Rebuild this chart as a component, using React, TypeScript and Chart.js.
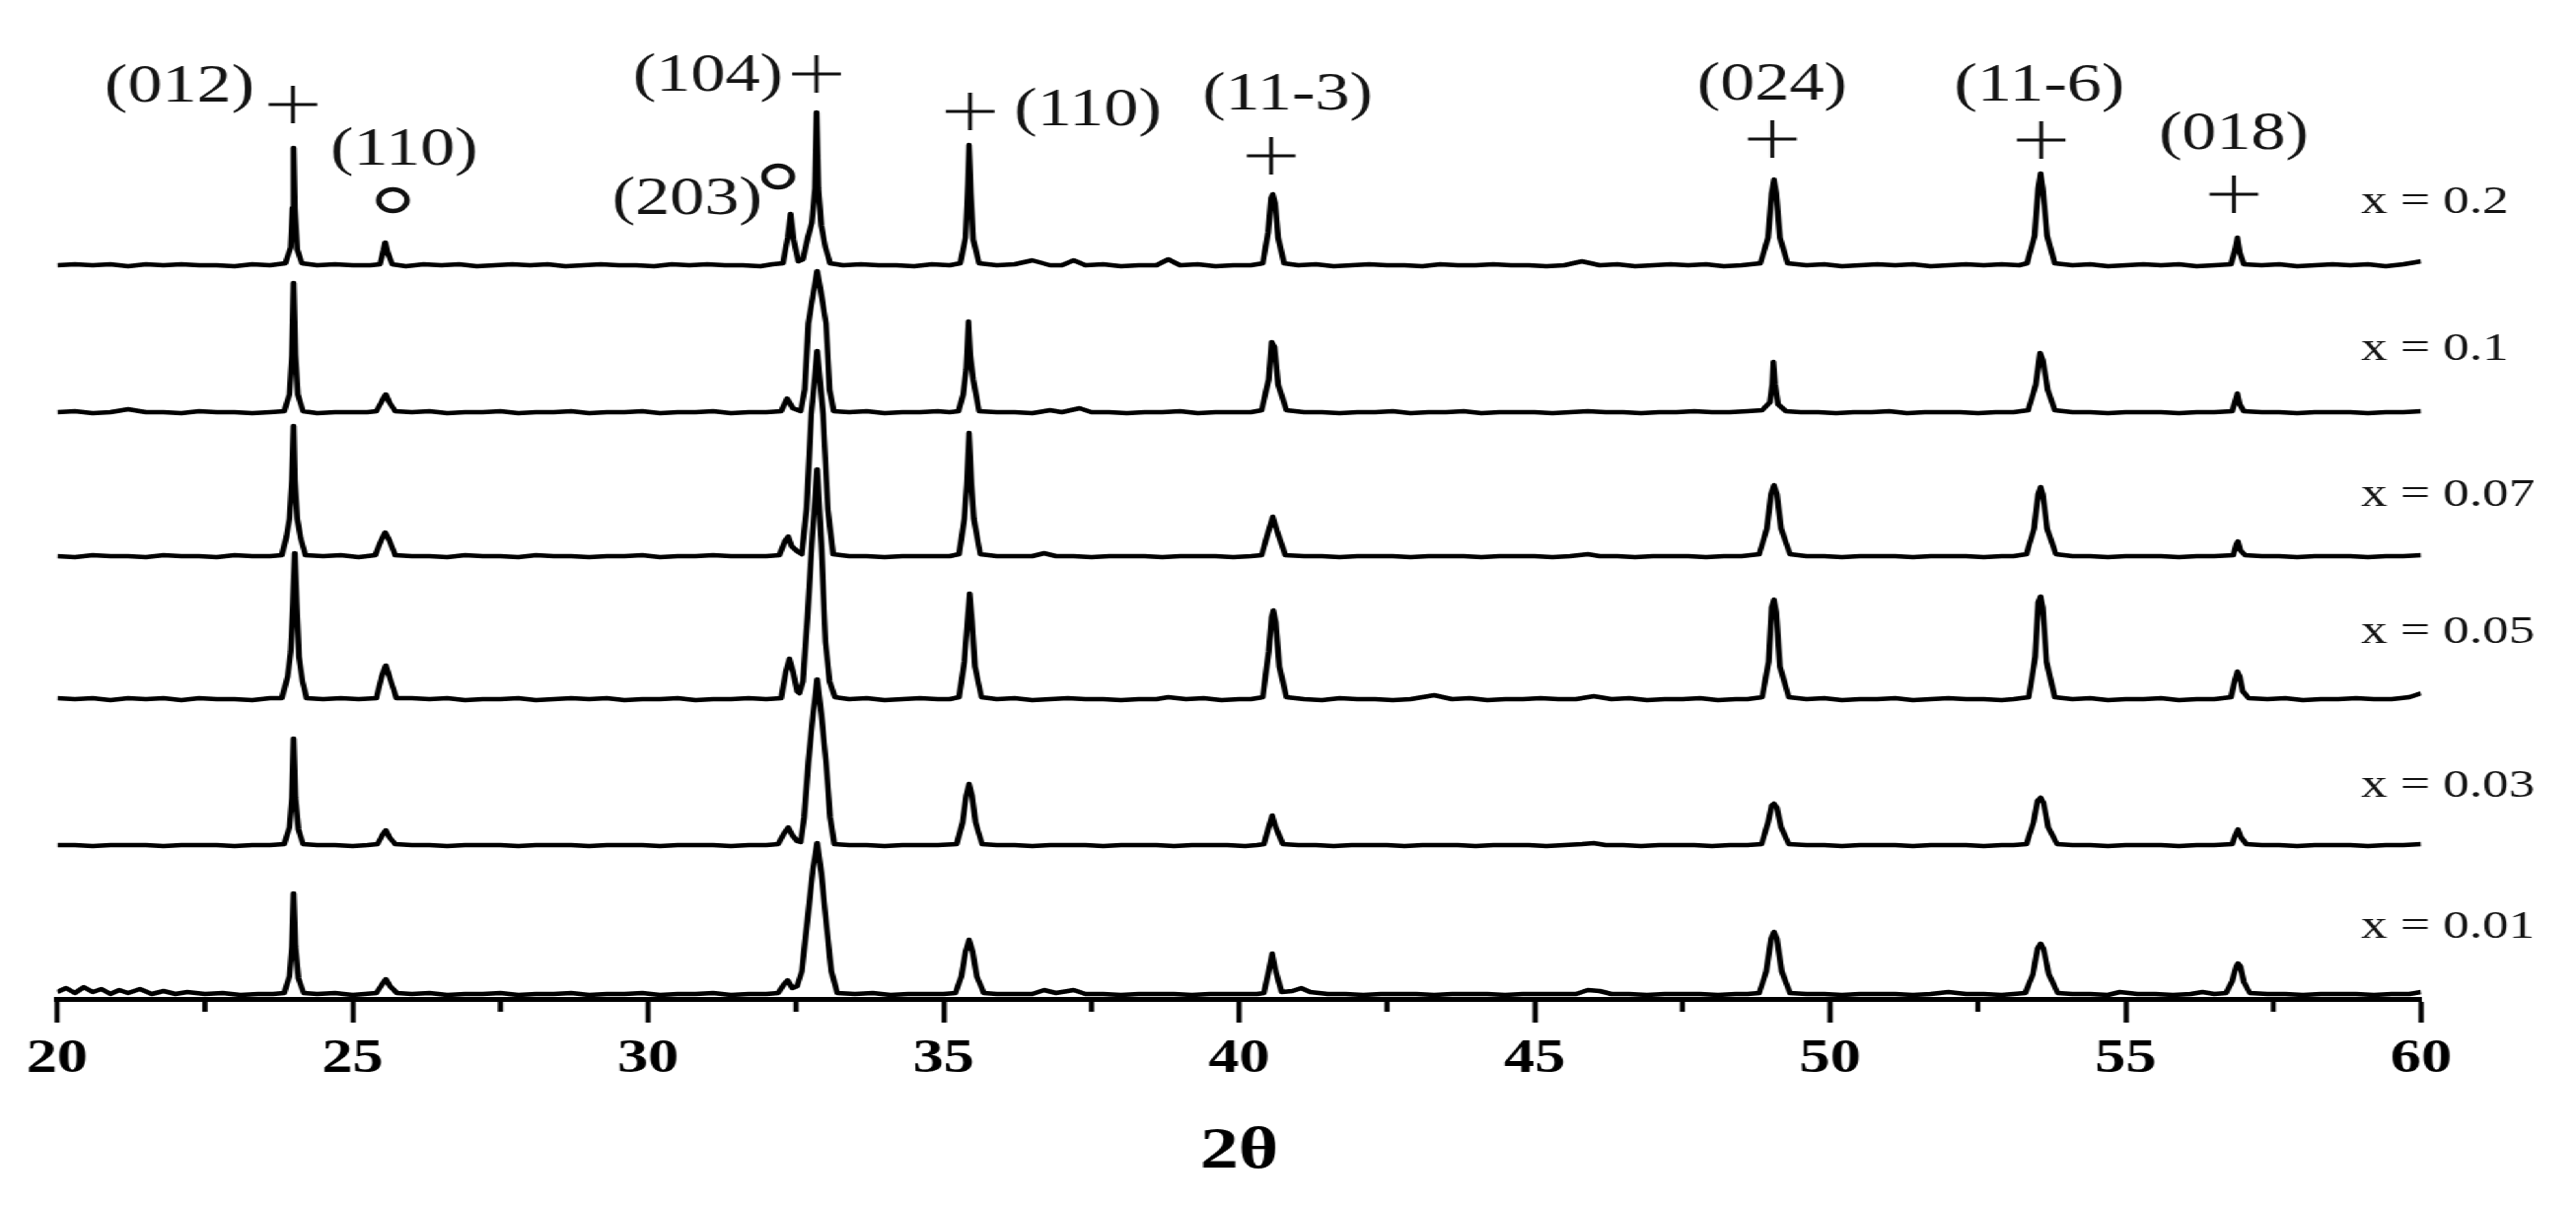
import React, { useEffect, useRef } from "react";
import { Chart, registerables } from "chart.js";

Chart.register(...registerables);

// ---------- data ----------
const SERIES_LABELS = ["x = 0.2", "x = 0.1", "x = 0.07", "x = 0.05", "x = 0.03", "x = 0.01"];
// vertical stacking offsets (a.u.) of each pattern
const OFFSETS = [742, 593, 447, 302, 154, 3];

// [2θ, intensity above own baseline]
const TRACE_X020: number[][] = [
  [20.0,2],[20.3,3],[20.6,2],[20.9,3],[21.2,1],[21.5,3],[21.8,2],[22.1,3],[22.4,2],[22.7,2],[23.0,1],[23.3,3],[23.6,2],
  [23.86,4],[23.95,20],[23.98,60],[24.0,121],[24.02,60],[24.06,18],[24.14,4],
  [24.4,2],[24.7,3],[25.0,2],[25.3,2],
  [25.46,3],[25.52,17],[25.55,25],[25.59,15],[25.67,3],
  [25.9,1],[26.2,3],[26.5,2],[26.8,3],[27.1,1],[27.4,2],[27.7,3],[28.0,2],[28.3,3],[28.6,1],[28.9,2],[29.2,3],[29.5,2],[29.8,2],[30.1,1],[30.4,3],[30.7,2],[31.0,3],[31.3,2],[31.6,2],[31.9,1],[32.1,3],
  [32.28,4],[32.36,30],[32.41,54],[32.46,28],[32.54,6],
  [32.62,8],[32.7,30],[32.77,45],[32.82,80],[32.85,157],[32.88,80],[32.93,42],[33.0,20],[33.08,4],
  [33.3,2],[33.6,3],[33.9,2],[34.2,2],[34.5,1],[34.8,3],[35.1,2],
  [35.28,4],[35.37,30],[35.41,85],[35.43,124],[35.46,75],[35.5,28],[35.6,4],
  [35.9,2],[36.2,3],[36.5,7],[36.8,2],[37.0,2],[37.2,7],[37.4,2],[37.7,3],[38.0,1],[38.3,2],[38.6,2],[38.8,8],[39.0,2],[39.3,3],[39.6,1],[39.9,2],[40.2,2],
  [40.4,4],[40.49,35],[40.54,70],[40.57,74],[40.61,65],[40.66,30],[40.76,4],
  [41.0,2],[41.3,3],[41.6,1],[41.9,2],[42.2,3],[42.5,2],[42.8,2],[43.1,1],[43.4,3],[43.7,2],[44.0,2],[44.3,3],[44.6,2],[44.9,2],[45.2,1],[45.5,2],[45.8,6],[46.1,2],[46.4,3],[46.7,1],[47.0,2],[47.3,3],[47.6,2],[47.9,3],[48.2,1],[48.5,2],
  [48.82,4],[48.95,30],[49.01,75],[49.05,89],[49.09,75],[49.15,30],[49.28,4],
  [49.6,2],[49.9,3],[50.2,1],[50.5,2],[50.8,3],[51.1,2],[51.4,3],[51.7,1],[52.0,2],[52.3,3],[52.6,2],[52.9,3],[53.2,2],
  [53.33,4],[53.46,32],[53.52,80],[53.56,95],[53.6,80],[53.67,32],[53.8,4],
  [54.1,2],[54.4,3],[54.7,1],[55.0,2],[55.3,3],[55.6,2],[55.9,3],[56.2,1],[56.5,2],
  [56.78,3],[56.85,18],[56.89,30],[56.93,15],[57.0,3],
  [57.3,2],[57.6,3],[57.9,1],[58.2,2],[58.5,3],[58.8,2],[59.1,3],[59.4,1],[59.7,3],[60.0,6],
];

const TRACE_X010: number[][] = [
  [20.0,2],[20.3,3],[20.6,1],[20.9,2],[21.2,5],[21.5,2],[21.8,2],[22.1,1],[22.4,3],[22.7,2],[23.0,2],[23.3,1],[23.6,2],
  [23.84,3],[23.93,20],[23.97,60],[24.0,133],[24.03,60],[24.07,20],[24.16,3],
  [24.4,1],[24.7,2],[25.0,2],[25.25,2],
  [25.4,3],[25.5,14],[25.56,20],[25.62,12],[25.72,3],
  [26.0,2],[26.3,3],[26.6,1],[26.9,2],[27.2,2],[27.5,3],[27.8,1],[28.1,2],[28.4,2],[28.7,3],[29.0,1],[29.3,2],[29.6,2],[29.9,3],[30.2,1],[30.5,2],[30.8,2],[31.1,3],[31.4,1],[31.7,2],[32.0,2],
  [32.25,3],[32.35,16],[32.45,6],
  [32.58,3],[32.65,25],[32.71,92],[32.8,125],[32.86,145],[32.92,125],[33.01,92],[33.07,25],[33.14,3],
  [33.4,2],[33.7,3],[34.0,1],[34.3,2],[34.6,2],[34.9,3],[35.1,2],
  [35.25,3],[35.33,20],[35.38,45],[35.42,94],[35.45,60],[35.5,35],[35.6,3],
  [35.9,2],[36.2,2],[36.5,1],[36.8,4],[37.0,2],[37.3,6],[37.5,2],[37.8,2],[38.1,1],[38.4,2],[38.7,2],[39.0,3],[39.3,1],[39.6,2],[39.9,2],[40.2,2],
  [40.38,4],[40.5,35],[40.55,73],[40.6,68],[40.66,30],[40.8,4],
  [41.1,2],[41.4,2],[41.7,1],[42.0,2],[42.3,2],[42.6,3],[42.9,1],[43.2,2],[43.5,2],[43.8,3],[44.1,1],[44.4,2],[44.7,2],[45.0,2],[45.3,1],[45.6,2],[45.9,3],[46.2,2],[46.5,2],[46.8,1],[47.1,2],[47.4,2],[47.7,3],[48.0,2],[48.3,2],[48.6,3],
  [48.85,4],[48.98,12],[49.02,30],[49.04,53],[49.07,30],[49.12,10],[49.25,3],
  [49.5,2],[49.8,2],[50.1,1],[50.4,2],[50.7,2],[51.0,3],[51.3,1],[51.6,2],[51.9,2],[52.2,2],[52.5,1],[52.8,2],[53.1,2],
  [53.35,4],[53.48,30],[53.55,62],[53.6,55],[53.68,25],[53.8,4],
  [54.1,2],[54.4,2],[54.7,1],[55.0,2],[55.3,2],[55.6,2],[55.9,1],[56.2,2],[56.5,2],
  [56.8,3],[56.86,15],[56.89,21],[56.93,10],[57.0,3],
  [57.3,2],[57.6,2],[57.9,1],[58.2,2],[58.5,2],[58.8,2],[59.1,1],[59.4,2],[59.7,2],[60.0,3],
];

const TRACE_X007: number[][] = [
  [20.0,2],[20.3,1],[20.6,3],[20.9,2],[21.2,2],[21.5,1],[21.8,3],[22.1,2],[22.4,2],[22.7,1],[23.0,3],[23.3,2],[23.6,2],
  [23.8,3],[23.88,22],[23.93,40],[23.97,80],[24.0,134],[24.02,80],[24.06,40],[24.12,20],[24.2,3],
  [24.5,2],[24.8,3],[25.1,1],
  [25.38,3],[25.48,18],[25.55,26],[25.62,18],[25.72,3],
  [26.0,2],[26.3,2],[26.6,1],[26.9,3],[27.2,2],[27.5,2],[27.8,1],[28.1,3],[28.4,2],[28.7,2],[29.0,1],[29.3,2],[29.6,2],[29.9,3],[30.2,1],[30.5,2],[30.8,2],[31.1,3],[31.4,2],[31.7,2],[32.0,2],
  [32.22,3],[32.32,18],[32.37,22],[32.43,12],[32.52,7],
  [32.6,4],[32.68,50],[32.76,146],[32.86,210],[32.96,146],[33.04,50],[33.13,4],
  [33.4,2],[33.7,2],[34.0,1],[34.3,2],[34.6,2],[34.9,2],[35.1,2],
  [35.26,4],[35.35,40],[35.39,75],[35.43,127],[35.47,75],[35.51,40],[35.62,4],
  [35.9,2],[36.2,2],[36.5,2],[36.7,5],[36.9,2],[37.2,2],[37.5,1],[37.8,2],[38.1,2],[38.4,2],[38.7,1],[39.0,2],[39.3,2],[39.6,2],[39.9,1],[40.2,2],
  [40.38,3],[40.5,28],[40.57,42],[40.64,28],[40.78,3],
  [41.1,2],[41.4,2],[41.7,1],[42.0,2],[42.3,2],[42.6,2],[42.9,1],[43.2,2],[43.5,2],[43.8,2],[44.1,1],[44.4,2],[44.7,2],[45.0,2],[45.3,1],[45.6,2],[45.9,4],[46.1,2],[46.4,2],[46.7,1],[47.0,2],[47.3,2],[47.6,2],[47.9,1],[48.2,2],[48.5,2],
  [48.8,4],[48.93,30],[49.0,65],[49.05,74],[49.1,65],[49.17,30],[49.32,4],
  [49.6,2],[49.9,2],[50.2,1],[50.5,2],[50.8,2],[51.1,2],[51.4,1],[51.7,2],[52.0,2],[52.3,2],[52.6,1],[52.9,2],[53.1,2],
  [53.32,4],[53.45,30],[53.52,65],[53.56,72],[53.6,65],[53.67,30],[53.82,4],
  [54.1,2],[54.4,2],[54.7,1],[55.0,2],[55.3,2],[55.6,2],[55.9,1],[56.2,2],[56.5,2],
  [56.82,3],[56.87,14],[56.9,17],[56.94,8],[57.02,3],
  [57.3,2],[57.6,2],[57.9,1],[58.2,2],[58.5,2],[58.8,2],[59.1,1],[59.4,2],[59.7,2],[60.0,3],
];

const TRACE_X005: number[][] = [
  [20.0,3],[20.3,2],[20.6,3],[20.9,1],[21.2,3],[21.5,2],[21.8,3],[22.1,1],[22.4,3],[22.7,2],[23.0,2],[23.3,1],[23.6,3],
  [23.8,3],[23.9,25],[23.95,50],[23.99,100],[24.02,150],[24.05,100],[24.09,45],[24.15,20],[24.22,3],
  [24.5,2],[24.8,3],[25.1,2],
  [25.4,3],[25.49,25],[25.56,36],[25.62,25],[25.74,3],
  [26.0,3],[26.3,2],[26.6,3],[26.9,1],[27.2,2],[27.5,2],[27.8,3],[28.1,1],[28.4,2],[28.7,3],[29.0,2],[29.3,3],[29.6,1],[29.9,2],[30.2,2],[30.5,3],[30.8,1],[31.1,2],[31.4,2],[31.7,3],[32.0,2],
  [32.25,3],[32.33,30],[32.39,43],[32.45,30],[32.52,10],[32.56,8],
  [32.62,20],[32.7,90],[32.78,170],[32.86,235],[32.93,160],[33.0,60],[33.07,20],[33.16,4],
  [33.4,2],[33.7,3],[34.0,1],[34.3,2],[34.6,3],[34.9,2],[35.1,2],
  [35.26,4],[35.35,40],[35.4,80],[35.44,109],[35.48,80],[35.53,35],[35.64,4],
  [35.9,2],[36.2,3],[36.5,1],[36.8,2],[37.1,3],[37.4,2],[37.7,2],[38.0,1],[38.3,2],[38.6,2],[38.8,4],[39.1,2],[39.4,3],[39.7,1],[40.0,2],[40.2,2],
  [40.4,4],[40.5,50],[40.55,85],[40.58,92],[40.62,80],[40.68,35],[40.8,4],
  [41.1,2],[41.4,1],[41.7,3],[42.0,2],[42.3,2],[42.6,1],[42.9,2],[43.3,6],[43.6,2],[43.9,3],[44.2,1],[44.5,2],[44.8,2],[45.1,3],[45.4,2],[45.7,2],[46.0,5],[46.3,2],[46.6,3],[46.9,1],[47.2,2],[47.5,2],[47.8,3],[48.1,1],[48.4,2],[48.6,2],
  [48.85,4],[48.96,40],[49.01,95],[49.05,103],[49.09,90],[49.15,35],[49.3,4],
  [49.6,2],[49.9,3],[50.2,1],[50.5,2],[50.8,2],[51.1,3],[51.4,1],[51.7,2],[52.0,3],[52.3,2],[52.6,2],[52.9,1],[53.1,2],
  [53.36,4],[53.47,45],[53.52,100],[53.56,106],[53.6,95],[53.66,40],[53.8,4],
  [54.1,2],[54.4,3],[54.7,1],[55.0,2],[55.3,2],[55.6,3],[55.9,1],[56.2,2],[56.5,2],
  [56.78,4],[56.85,22],[56.89,30],[56.93,25],[56.98,10],[57.08,3],
  [57.4,2],[57.7,3],[58.0,1],[58.3,2],[58.6,2],[58.9,3],[59.2,2],[59.5,2],[59.8,4],[60.0,8],
];

const TRACE_X003: number[][] = [
  [20.0,2],[20.3,2],[20.6,1],[20.9,2],[21.2,2],[21.5,2],[21.8,1],[22.1,2],[22.4,2],[22.7,2],[23.0,1],[23.3,2],[23.6,2],
  [23.84,3],[23.93,20],[23.97,50],[24.0,110],[24.03,50],[24.08,18],[24.16,3],
  [24.4,2],[24.7,2],[25.0,1],[25.25,2],
  [25.42,3],[25.5,12],[25.56,17],[25.62,10],[25.72,3],
  [26.0,2],[26.3,2],[26.6,1],[26.9,2],[27.2,2],[27.5,2],[27.8,1],[28.1,2],[28.4,2],[28.7,2],[29.0,1],[29.3,2],[29.6,2],[29.9,2],[30.2,1],[30.5,2],[30.8,2],[31.1,2],[31.4,1],[31.7,2],[32.0,2],
  [32.2,3],[32.3,14],[32.37,20],[32.44,12],[32.52,6],
  [32.58,5],[32.64,30],[32.71,86],[32.79,135],[32.86,170],[32.93,135],[33.01,86],[33.08,30],[33.15,3],
  [33.4,2],[33.7,2],[34.0,1],[34.3,2],[34.6,2],[34.9,2],
  [35.22,3],[35.32,25],[35.38,52],[35.43,64],[35.48,52],[35.54,25],[35.65,3],
  [35.9,2],[36.2,2],[36.5,1],[36.8,2],[37.1,2],[37.4,2],[37.7,1],[38.0,2],[38.3,2],[38.6,2],[38.9,1],[39.2,2],[39.5,2],[39.8,2],[40.1,1],[40.3,2],
  [40.42,3],[40.5,20],[40.56,32],[40.62,20],[40.74,3],
  [41.0,2],[41.3,2],[41.6,1],[41.9,2],[42.2,2],[42.5,2],[42.8,1],[43.1,2],[43.4,2],[43.7,2],[44.0,1],[44.3,2],[44.6,2],[44.9,2],[45.2,1],[45.5,2],[45.8,3],[46.0,4],[46.2,2],[46.5,2],[46.8,1],[47.1,2],[47.4,2],[47.7,2],[48.0,1],[48.3,2],[48.6,2],
  [48.84,3],[48.95,25],[49.01,42],[49.05,44],[49.1,40],[49.17,20],[49.3,3],
  [49.6,2],[49.9,2],[50.2,1],[50.5,2],[50.8,2],[51.1,2],[51.4,1],[51.7,2],[52.0,2],[52.3,2],[52.6,1],[52.9,2],[53.1,2],
  [53.32,3],[53.44,25],[53.51,47],[53.56,50],[53.61,45],[53.69,20],[53.84,3],
  [54.1,2],[54.4,2],[54.7,1],[55.0,2],[55.3,2],[55.6,2],[55.9,1],[56.2,2],[56.5,2],
  [56.8,3],[56.86,13],[56.9,18],[56.95,10],[57.04,3],
  [57.3,2],[57.6,2],[57.9,1],[58.2,2],[58.5,2],[58.8,2],[59.1,1],[59.4,2],[59.7,2],[60.0,3],
];

const TRACE_X001: number[][] = [
  [20.0,4],[20.15,8],[20.3,3],[20.45,9],[20.6,4],[20.75,7],[20.9,2],[21.05,6],[21.2,3],[21.4,7],[21.6,2],[21.8,5],[22.0,2],[22.2,4],[22.5,2],[22.8,3],[23.1,1],[23.4,2],[23.65,2],
  [23.84,3],[23.93,20],[23.97,50],[24.0,104],[24.03,50],[24.08,18],[24.17,3],
  [24.4,2],[24.7,3],[25.0,1],[25.2,2],
  [25.4,3],[25.5,12],[25.56,17],[25.63,10],[25.75,3],
  [26.0,2],[26.3,3],[26.6,1],[26.9,2],[27.2,2],[27.5,3],[27.8,1],[28.1,2],[28.4,2],[28.7,3],[29.0,1],[29.3,2],[29.6,2],[29.9,3],[30.2,1],[30.5,2],[30.8,2],[31.1,3],[31.4,1],[31.7,2],[32.0,2],
  [32.2,3],[32.3,12],[32.36,16],[32.44,8],[32.52,10],
  [32.6,25],[32.7,80],[32.79,130],[32.86,155],[32.93,125],[33.02,70],[33.1,25],[33.2,3],
  [33.5,2],[33.8,3],[34.1,1],[34.4,2],[34.7,2],[35.0,2],
  [35.2,3],[35.3,20],[35.37,45],[35.43,57],[35.49,45],[35.56,20],[35.68,3],
  [35.9,2],[36.2,2],[36.5,2],[36.7,6],[36.9,3],[37.2,6],[37.4,2],[37.7,2],[38.0,1],[38.3,2],[38.6,2],[38.9,2],[39.2,1],[39.5,2],[39.8,2],[40.1,2],[40.3,2],
  [40.42,3],[40.5,25],[40.56,43],[40.62,25],[40.72,4],
  [40.9,5],[41.05,8],[41.2,4],[41.5,2],[41.8,2],[42.1,1],[42.4,2],[42.7,2],[43.0,2],[43.3,1],[43.6,2],[43.9,2],[44.2,2],[44.5,1],[44.8,2],[45.1,2],[45.4,2],[45.7,2],[45.9,6],[46.1,5],[46.3,2],[46.6,2],[46.9,1],[47.2,2],[47.5,2],[47.8,2],[48.1,1],[48.4,2],[48.6,2],
  [48.8,3],[48.92,25],[49.0,58],[49.05,65],[49.1,58],[49.18,25],[49.32,3],
  [49.6,2],[49.9,2],[50.2,1],[50.5,2],[50.8,2],[51.1,2],[51.4,1],[51.7,2],[52.0,4],[52.3,2],[52.6,2],[52.9,1],[53.1,2],
  [53.3,3],[53.43,22],[53.51,48],[53.56,53],[53.61,48],[53.7,22],[53.85,3],
  [54.1,2],[54.4,2],[54.7,1],[54.9,4],[55.2,2],[55.5,2],[55.8,1],[56.1,2],[56.3,4],[56.5,2],
  [56.7,3],[56.8,15],[56.87,30],[56.9,33],[56.94,30],[57.0,14],[57.1,3],
  [57.4,2],[57.7,2],[58.0,1],[58.3,2],[58.6,2],[58.9,2],[59.2,1],[59.5,2],[59.8,2],[60.0,4],
];

const TRACES = [TRACE_X020, TRACE_X010, TRACE_X007, TRACE_X005, TRACE_X003, TRACE_X001];

// reflection labels
const HKL_TEXT = ["(012)", "(110)", "(104)", "(203)", "(110)", "(11-3)", "(024)", "(11-6)", "(018)"];
const HKL_X = [22.07, 25.87, 31.01, 30.66, 37.44, 40.82, 49.02, 53.54, 56.83];
const HKL_Y = [924, 860, 935, 810, 900, 916, 926, 925, 876];
// "+" phase markers
const PLUS_X = [23.99, 32.85, 35.45, 40.54, 49.02, 53.57, 56.83];
const PLUS_Y = [907, 938, 900, 855, 872, 871, 816];
// "o" phase markers
const O_X = [25.68, 32.2];
const O_Y = [810, 834];
// series label placement
const SERIES_LABEL_X = 58.98;
const SERIES_LABEL_Y = [808, 659, 511, 372, 216, 73];

const X_MIN = 20;
const X_MAX = 60;
const X_STEP = 5;
const MINOR_TICKS = [22.5, 27.5, 32.5, 37.5, 42.5, 47.5, 52.5, 57.5];
const X_TITLE = "2θ";

// ---------- layout ----------
const STRETCH = 1.3;
const CW = 2009;
const CH = 1224;

const annotationPlugin = {
  id: "xrdAnnotations",
  afterDatasetsDraw(chart: any) {
    const { ctx, chartArea } = chart;
    const xs = chart.scales.x;
    const ys = chart.scales.y;
    ctx.save();
    // minor ticks
    ctx.strokeStyle = "#000";
    ctx.lineWidth = 4;
    for (const v of MINOR_TICKS) {
      const px = xs.getPixelForValue(v);
      ctx.beginPath();
      ctx.moveTo(px, chartArea.bottom);
      ctx.lineTo(px, chartArea.bottom + 13);
      ctx.stroke();
    }
    // hkl labels
    ctx.fillStyle = "#141414";
    ctx.textAlign = "center";
    ctx.textBaseline = "middle";
    ctx.font = '54px "Liberation Serif"';
    HKL_TEXT.forEach((t, i) => {
      ctx.fillText(t, xs.getPixelForValue(HKL_X[i]), ys.getPixelForValue(HKL_Y[i]));
    });
    // series labels
    ctx.textAlign = "left";
    ctx.font = '41px "Liberation Serif"';
    SERIES_LABELS.forEach((t, i) => {
      ctx.fillText(t, xs.getPixelForValue(SERIES_LABEL_X), ys.getPixelForValue(SERIES_LABEL_Y[i]));
    });
    ctx.restore();
  },
};

export default function App() {
  const canvasRef = useRef<HTMLCanvasElement | null>(null);

  useEffect(() => {
    document.body.style.margin = "0";
    document.body.style.overflow = "hidden";
    const canvas = canvasRef.current;
    if (!canvas) return;

    const traceSets = TRACES.map((pts, i) => ({
      label: SERIES_LABELS[i],
      data: pts.map(([a, b]) => ({ x: a, y: b + OFFSETS[i] })),
      showLine: true,
      borderColor: "#000",
      borderWidth: 4.5,
      borderJoinStyle: "round" as const,
      pointRadius: 0,
      pointHoverRadius: 0,
      tension: 0,
    }));

    const plusSet = {
      label: "+",
      data: PLUS_X.map((v, i) => ({ x: v, y: PLUS_Y[i] })),
      showLine: false,
      pointStyle: "cross" as const,
      pointRadius: 19,
      pointHoverRadius: 19,
      pointBorderWidth: 3,
      pointBorderColor: "#111",
      borderColor: "#111",
    };
    const oSet = {
      label: "o",
      data: O_X.map((v, i) => ({ x: v, y: O_Y[i] })),
      showLine: false,
      pointStyle: "circle" as const,
      pointRadius: 11,
      pointHoverRadius: 11,
      pointBorderWidth: 4.5,
      pointBorderColor: "#111",
      pointBackgroundColor: "rgba(0,0,0,0)",
      borderColor: "#111",
    };

    const chart = new Chart(canvas, {
      type: "scatter",
      data: { datasets: [...traceSets, plusSet, oSet] as any },
      options: {
        animation: false,
        responsive: false,
        maintainAspectRatio: false,
        events: [],
        layout: { autoPadding: false, padding: { left: 44.6, right: 120.5, top: 0, bottom: 26 } },
        plugins: {
          legend: { display: false },
          tooltip: { enabled: false },
          title: { display: false },
        },
        scales: {
          x: {
            type: "linear",
            min: X_MIN,
            max: X_MAX,
            ticks: {
              stepSize: X_STEP,
              color: "#000",
              padding: 14,
              maxRotation: 0,
              autoSkip: false,
              font: { family: '"Liberation Serif"', size: 48, weight: "bold", lineHeight: 1 },
            },
            grid: {
              display: true,
              drawOnChartArea: false,
              drawTicks: true,
              tickLength: 24,
              tickWidth: 4,
              tickColor: "#000",
              color: "#000",
            },
            border: { display: true, color: "#000", width: 5 },
            title: {
              display: true,
              text: X_TITLE,
              color: "#000",
              padding: { top: 25, bottom: 0 },
              font: { family: '"Liberation Serif"', size: 60, weight: "bold", lineHeight: 1 },
            },
          },
          y: {
            type: "linear",
            display: false,
            min: 0,
            max: 1013,
          },
        },
      },
      plugins: [annotationPlugin],
    });

    return () => chart.destroy();
  }, []);

  return (
    <div
      style={{
        position: "fixed",
        left: 0,
        top: 0,
        width: CW,
        height: CH,
        background: "#fff",
        transform: `scaleX(${STRETCH})`,
        transformOrigin: "0 0",
      }}
    >
      <canvas ref={canvasRef} width={CW} height={CH} style={{ display: "block" }} />
    </div>
  );
}
